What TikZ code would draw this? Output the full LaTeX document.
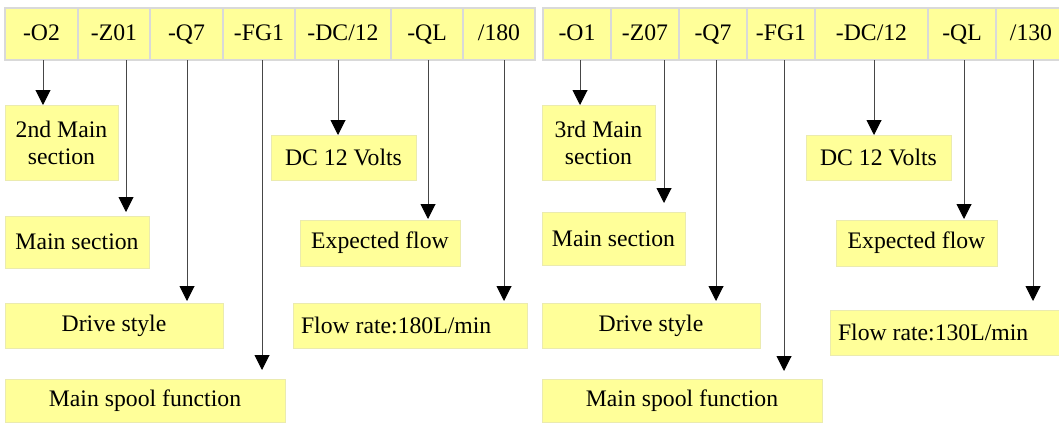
\documentclass[tikz,border=0pt]{standalone}
\usepackage{fontspec}
\setmainfont{Liberation Serif}
\usetikzlibrary{arrows.meta}

\definecolor{cellyellow}{RGB}{255,255,153}
\definecolor{cellgray}{RGB}{217,217,217}
\definecolor{boxedge}{RGB}{235,235,175}
\definecolor{leadgray}{RGB}{70,70,70}

\tikzset{
  hcell/.style={draw=cellgray, line width=1pt, fill=cellyellow, anchor=north west,
    inner sep=0pt, outer sep=0pt, minimum height=26pt, text depth=1pt},
  lbox/.style={draw=boxedge, line width=0.5pt, fill=cellyellow, anchor=north west,
    inner sep=0pt, outer sep=0pt, align=center},
  lead/.style={draw=leadgray, line width=0.5pt,
    -{Triangle[width=7.5pt,length=7.5pt,color=black]}},
}

\begin{document}
\begin{tikzpicture}[font=\fontsize{11.85}{13.5}\selectfont]
\def\u{0.5pt}
\useasboundingbox (0,0) rectangle (1059*\u,-423*\u);
\clip (0,0) rectangle (1059*\u,-423*\u);

% code of the left valve
\node[hcell, minimum width=73*\u] (hO2) at (5*\u,-8*\u) {-O2};
\node[hcell, minimum width=72*\u] (hZ01) at (78*\u,-8*\u) {-Z01};
\node[hcell, minimum width=73*\u] (hQ7a) at (150*\u,-8*\u) {-Q7};
\node[hcell, minimum width=72*\u] (hFG1a) at (223*\u,-8*\u) {-FG1};
\node[hcell, minimum width=96*\u] (hDCa) at (295*\u,-8*\u) {-DC/12};
\node[hcell, minimum width=72*\u] (hQLa) at (391*\u,-8*\u) {-QL};
\node[hcell, minimum width=72*\u] (h180) at (463*\u,-8*\u) {/180};

% code of the right valve
\node[hcell, minimum width=68*\u] (hO1) at (543*\u,-8*\u) {-O1};
\node[hcell, minimum width=68*\u] (hZ07) at (611*\u,-8*\u) {-Z07};
\node[hcell, minimum width=68*\u] (hQ7b) at (679*\u,-8*\u) {-Q7};
\node[hcell, minimum width=68*\u] (hFG1b) at (747*\u,-8*\u) {-FG1};
\node[hcell, minimum width=113*\u] (hDCb) at (815*\u,-8*\u) {-DC/12};
\node[hcell, minimum width=68*\u] (hQLb) at (928*\u,-8*\u) {-QL};
\node[hcell, minimum width=70*\u] (h130) at (996*\u,-8*\u) {/130};

% meanings, left
\node[lbox, minimum width=113*\u, minimum height=75*\u] (b2nd) at (5*\u,-105*\u) {2nd Main\\section};
\node[lbox, minimum width=144*\u, minimum height=52*\u] (bMainL) at (5*\u,-216*\u) {Main section};
\node[lbox, minimum width=218*\u, minimum height=45*\u] (bDriveL) at (5*\u,-303*\u) {Drive style};
\node[lbox, minimum width=280*\u, minimum height=43*\u] (bSpoolL) at (5*\u,-379*\u) {Main spool function};
\node[lbox, minimum width=145*\u, minimum height=45*\u] (bDCL) at (271*\u,-135*\u) {DC 12 Volts};
\node[lbox, minimum width=160*\u, minimum height=46*\u] (bExpL) at (300*\u,-220*\u) {Expected flow};
\node[lbox, inner xsep=8*\u, minimum height=45*\u] (bFlowL) at (293*\u,-303*\u) {\hbox to 109pt{Flow rate:180L/min\hfil}};

% meanings, right
\node[lbox, minimum width=113*\u, minimum height=75*\u] (b3rd) at (542*\u,-105*\u) {3rd Main\\section};
\node[lbox, minimum width=143*\u, minimum height=53*\u] (bMainR) at (542*\u,-212*\u) {Main section};
\node[lbox, minimum width=218*\u, minimum height=45*\u] (bDriveR) at (542*\u,-303*\u) {Drive style};
\node[lbox, minimum width=280*\u, minimum height=43*\u] (bSpoolR) at (542*\u,-379*\u) {Main spool function};
\node[lbox, minimum width=145*\u, minimum height=45*\u] (bDCR) at (806*\u,-135*\u) {DC 12 Volts};
\node[lbox, minimum width=161*\u, minimum height=46*\u] (bExpR) at (836*\u,-220*\u) {Expected flow};
\node[lbox, inner xsep=8*\u, minimum height=45*\u] (bFlowR) at (830*\u,-310*\u) {\hbox to 112pt{Flow rate:130L/min\hfil}};

% x of each lead
\coordinate (xO2) at (43*\u,0);
\coordinate (xZ01) at (126*\u,0);
\coordinate (xQ7a) at (187*\u,0);
\coordinate (xFG1a) at (262*\u,0);
\coordinate (xDCa) at (338*\u,0);
\coordinate (xQLa) at (428*\u,0);
\coordinate (x180) at (504*\u,0);
\coordinate (xO1) at (580*\u,0);
\coordinate (xZ07) at (664*\u,0);
\coordinate (xQ7b) at (716*\u,0);
\coordinate (xFG1b) at (784*\u,0);
\coordinate (xDCb) at (874*\u,0);
\coordinate (xQLb) at (964*\u,0);
\coordinate (x130) at (1033*\u,0);

\draw[lead] (hO2.south -| xO2) -- (b2nd.north -| xO2);
\draw[lead, shorten >=4*\u] (hZ01.south -| xZ01) -- (bMainL.north -| xZ01);
\draw[lead, shorten >=2*\u] (hQ7a.south -| xQ7a) -- (bDriveL.north -| xQ7a);
\draw[lead, shorten >=9*\u] (hFG1a.south -| xFG1a) -- (bSpoolL.north -| xFG1a);
\draw[lead] (hDCa.south -| xDCa) -- (bDCL.north -| xDCa);
\draw[lead, shorten >=1*\u] (hQLa.south -| xQLa) -- (bExpL.north -| xQLa);
\draw[lead, shorten >=2*\u] (h180.south -| x180) -- (bFlowL.north -| x180);

\draw[lead] (hO1.south -| xO1) -- (b3rd.north -| xO1);
\draw[lead, shorten >=9*\u] (hZ07.south -| xZ07) -- (bMainR.north -| xZ07);
\draw[lead, shorten >=2*\u] (hQ7b.south -| xQ7b) -- (bDriveR.north -| xQ7b);
\draw[lead, shorten >=8*\u] (hFG1b.south -| xFG1b) -- (bSpoolR.north -| xFG1b);
\draw[lead] (hDCb.south -| xDCb) -- (bDCR.north -| xDCb);
\draw[lead, shorten >=1*\u] (hQLb.south -| xQLb) -- (bExpR.north -| xQLb);
\draw[lead, shorten >=9*\u] (h130.south -| x130) -- (bFlowR.north -| x130);
\end{tikzpicture}
\end{document}
